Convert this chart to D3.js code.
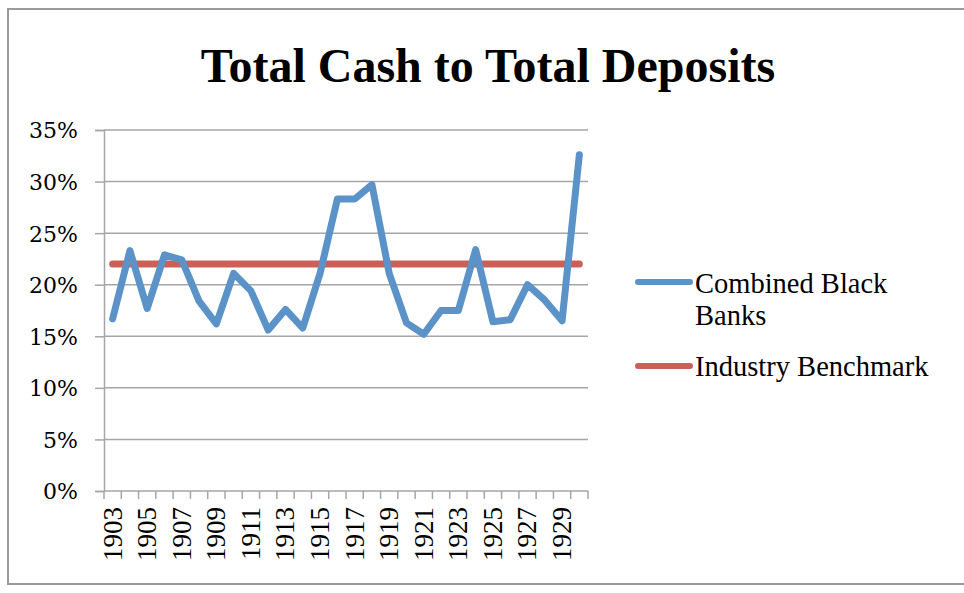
<!DOCTYPE html>
<html lang="en">
<head>
  <meta charset="utf-8">
  <title>Total Cash to Total Deposits</title>
  <script src="https://d3js.org/d3.v7.min.js"></script>
  <style>
  body { margin: 0; background: #fff; }
  svg text { font-family: "Liberation Serif", "Times New Roman", serif; fill: #000; }
  .grid line { stroke: #a6a6a6; stroke-width: 1.5; }
  .axis path, .axis line { stroke: #a6a6a6; stroke-width: 1.5; }
  .yaxis text { font-family: "DejaVu Serif", serif; }
  </style>
</head>
<body>
<script>

var years = ["1903","1904","1905","1906","1907","1908","1909","1910","1911","1912",
             "1913","1914","1915","1916","1917","1918","1919","1920","1921","1922",
             "1923","1924","1925","1926","1927","1928","1929","1930"];

var blackBanks = [16.7, 23.3, 17.7, 22.9, 22.4, 18.4, 16.2, 21.1, 19.4, 15.6,
                  17.6, 15.8, 21.1, 28.3, 28.3, 29.7, 21.1, 16.3, 15.2, 17.5,
                  17.5, 23.4, 16.4, 16.6, 20.0, 18.5, 16.5, 32.6];

var benchmark = years.map(function() { return 22.0; });

var yTicks = [0, 5, 10, 15, 20, 25, 30, 35];

var seriesNames = ["Combined Black Banks", "Industry Benchmark"];
var seriesColors = ["#5b93c9", "#cc5f56"];

var width = 964, height = 593;
var margin = {top: 130, left: 104, right: 376, bottom: 102};

var svg = d3.select("body").append("svg")
    .attr("width", width)
    .attr("height", height);

// outer frame
svg.append("rect")
    .attr("x", 8).attr("y", 9)
    .attr("width", 960).attr("height", 575)
    .attr("fill", "none")
    .attr("stroke", "#9a9a9a")
    .attr("stroke-width", 2);

svg.append("text")
    .attr("x", 488)
    .attr("y", 82)
    .attr("text-anchor", "middle")
    .style("font-size", "48px")
    .style("font-weight", "bold")
    .text("Total Cash to Total Deposits");

var x = d3.scaleBand()
    .domain(years)
    .range([margin.left, width - margin.right]);

var y = d3.scaleLinear()
    .domain([0, 35])
    .range([height - margin.bottom, margin.top]);

// horizontal gridlines
svg.append("g")
    .attr("class", "grid")
  .selectAll("line")
    .data(yTicks.filter(function(d) { return d > 0; }))
  .enter().append("line")
    .attr("x1", margin.left)
    .attr("x2", width - margin.right)
    .attr("y1", function(d) { return y(d); })
    .attr("y2", function(d) { return y(d); });

// y axis
var yAxis = svg.append("g")
    .attr("class", "axis yaxis")
    .attr("transform", "translate(" + margin.left + ",0)")
    .call(d3.axisLeft(y).tickValues(yTicks).tickSize(9).tickPadding(17)
      .tickFormat(function(d) { return d + "%"; }));
yAxis.selectAll("text").style("font-size", "22px").attr("dy", "0.36em");

// x axis: ticks on category boundaries, labels on every other year
var xAxisG = svg.append("g")
    .attr("class", "axis")
    .attr("transform", "translate(0," + y(0) + ")");

xAxisG.append("line")
    .attr("x1", margin.left).attr("x2", width - margin.right)
    .attr("y1", 0).attr("y2", 0);

var edges = years.map(function(d) { return x(d); }).concat([x.range()[1]]);
xAxisG.selectAll(".tk")
    .data(edges)
  .enter().append("line")
    .attr("class", "tk")
    .attr("x1", function(d) { return d; })
    .attr("x2", function(d) { return d; })
    .attr("y1", 0).attr("y2", 8);

xAxisG.selectAll(".lbl")
    .data(years.filter(function(d, i) { return i % 2 === 0; }))
  .enter().append("text")
    .attr("class", "lbl")
    .attr("transform", function(d) {
      return "translate(" + (x(d) + x.bandwidth() / 2) + ",16) rotate(-90)";
    })
    .attr("text-anchor", "end")
    .attr("dy", "0.33em")
    .style("font-size", "27px")
    .text(function(d) { return d; });

var line = d3.line()
    .x(function(d, i) { return x(years[i]) + x.bandwidth() / 2; })
    .y(function(d) { return y(d); });

svg.append("path")
    .datum(benchmark)
    .attr("d", line)
    .attr("fill", "none")
    .attr("stroke", seriesColors[1])
    .attr("stroke-width", 7)
    .attr("stroke-linecap", "round");

svg.append("path")
    .datum(blackBanks)
    .attr("d", line)
    .attr("fill", "none")
    .attr("stroke", seriesColors[0])
    .attr("stroke-width", 7)
    .attr("stroke-linejoin", "round")
    .attr("stroke-linecap", "round");

// legend
var legend = svg.append("g").attr("class", "legend");
var legendY = [282, 366];
legend.selectAll("line")
    .data(seriesNames)
  .enter().append("line")
    .attr("x1", 638).attr("x2", 690)
    .attr("y1", function(d, i) { return legendY[i]; })
    .attr("y2", function(d, i) { return legendY[i]; })
    .attr("stroke", function(d, i) { return seriesColors[i]; })
    .attr("stroke-width", 6)
    .attr("stroke-linecap", "round");

var lt = legend.append("text")
    .attr("x", 695).attr("y", 293)
    .style("font-size", "28.5px");
lt.append("tspan").attr("x", 695).text("Combined Black");
lt.append("tspan").attr("x", 695).attr("dy", 32).text("Banks");

legend.append("text")
    .attr("x", 695).attr("y", 376)
    .style("font-size", "28.5px")
    .text(seriesNames[1]);

</script>
</body>
</html>
